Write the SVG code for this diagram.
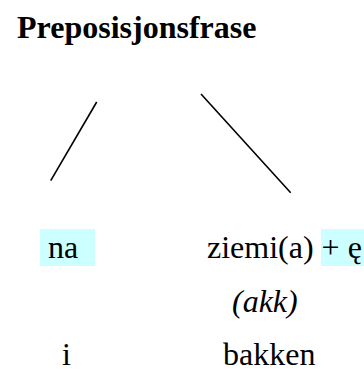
<svg xmlns="http://www.w3.org/2000/svg" width="364" height="370" viewBox="0 0 364 370">
  <style>
    .t { font-size: 32px; fill: #000; }
    .title { font-weight: bold; }
    .case { font-style: italic; }
    .hl { fill: #ccffff; }
    .edge { stroke: #000; stroke-width: 1.6; fill: none; }
  </style>
  <rect width="364" height="370" fill="#fff"/>
  <g id="title">
    <text class="t title" font-family="Liberation Serif, Times New Roman, Times, serif" x="17" y="38">Preposisjonsfrase</text>
  </g>
  <g id="connectors">
    <line class="edge" x1="96.7" y1="102" x2="50.7" y2="180.7"/>
    <line class="edge" x1="201" y1="94" x2="290.7" y2="192.7"/>
  </g>
  <g id="prep">
    <rect class="hl" x="40" y="229" width="55" height="37"/>
    <text class="t" font-family="Liberation Serif, Times New Roman, Times, serif" x="48" y="258">na</text>
  </g>
  <g id="noun">
    <rect class="hl" x="321" y="229" width="43" height="37"/>
    <text class="t" font-family="Liberation Serif, Times New Roman, Times, serif" x="207" y="258">ziemi(a) + ę</text>
  </g>
  <g id="case">
    <text class="t case" font-family="Liberation Serif, Times New Roman, Times, serif" x="232" y="312">(akk)</text>
  </g>
  <g id="prep-gloss">
    <text class="t" font-family="Liberation Serif, Times New Roman, Times, serif" x="62" y="365">i</text>
  </g>
  <g id="noun-gloss">
    <text class="t" font-family="Liberation Serif, Times New Roman, Times, serif" x="223" y="365">bakken</text>
  </g>
</svg>
